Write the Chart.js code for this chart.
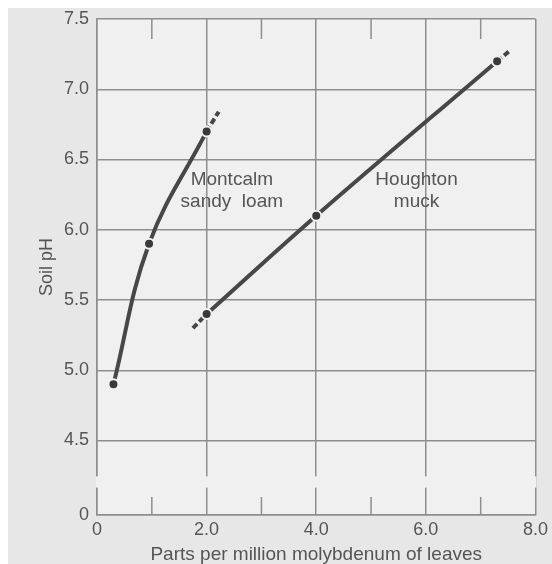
<!DOCTYPE html>
<html>
<head>
<meta charset="utf-8">
<script src="https://cdn.jsdelivr.net/npm/chart.js@4.4.0/dist/chart.umd.min.js"></script>
<style>
  html, body { margin: 0; padding: 0; background: #fff; }
</style>
</head>
<body>
<canvas id="soil-chart" width="552" height="564"></canvas>
<script>
// measured points: ppm molybdenum in leaves vs soil pH
const montcalm_x = [0.3, 0.95, 2.0];
const montcalm_y = [4.9, 5.9, 6.7];
const montcalm_ext_x = [2.0, 2.22];
const montcalm_ext_y = [6.7, 6.84];

const houghton_x = [2.0, 4.0, 7.3];
const houghton_y = [5.4, 6.1, 7.2];
const houghton_lo_x = [1.75, 2.0];
const houghton_lo_y = [5.3, 5.4];
const houghton_hi_x = [7.3, 7.55];
const houghton_hi_y = [7.2, 7.28];

const xTicks = [0, 2, 4, 6, 8];
const xMinorTicks = [1, 3, 5, 7];
const yTicks = [4.5, 5.0, 5.5, 6.0, 6.5, 7.0, 7.5];
const yZero = 3.97; // bottom of the broken axis, labelled "0"

const montcalm_label = ['Montcalm', 'sandy  loam'];
const houghton_label = ['Houghton', 'muck'];

const lineColor = '#474747';
const gridColor = '#8e8e8e';
const textColor = '#555';
const plotBg = '#f0f0f0';

let pts = (xs, ys) => xs.map((x, i) => ({x: x, y: ys[i]}));

const mainLine = {
    showLine: true,
    borderColor: lineColor,
    borderWidth: 4,
    tension: 0.4,
    pointRadius: 5,
    pointBackgroundColor: '#3a3a3a',
    pointBorderColor: plotBg,
    pointBorderWidth: 2,
};
const dashLine = {
    showLine: true,
    borderColor: lineColor,
    borderWidth: 4,
    borderDash: [6, 3],
    pointRadius: 0,
};

// paints the scanned-page background
const pageBg = {
    id: 'pageBg',
    beforeDraw(chart) {
        const {ctx, chartArea: a} = chart;
        ctx.save();
        ctx.fillStyle = '#fff';
        ctx.fillRect(0, 0, chart.width, chart.height);
        ctx.fillStyle = '#e7e7e7';
        ctx.fillRect(8, 8, chart.width - 8, chart.height - 8);
        ctx.fillStyle = plotBg;
        ctx.fillRect(a.left, a.top, a.right - a.left, a.bottom - a.top);
        ctx.restore();
    }
};

// axis break gap + short inner ticks on top and bottom
const axisBreak = {
    id: 'axisBreak',
    beforeDatasetsDraw(chart) {
        const {ctx, chartArea: a, scales: {x, y}} = chart;
        ctx.save();
        const g0 = y.getPixelForValue(4.245), g1 = y.getPixelForValue(4.165);
        ctx.fillStyle = plotBg;
        ctx.fillRect(a.left - 1, g0, a.right - a.left + 2, g1 - g0);
        ctx.strokeStyle = gridColor;
        ctx.lineWidth = 1.5;
        xMinorTicks.forEach(v => {
            const px = x.getPixelForValue(v);
            ctx.beginPath();
            ctx.moveTo(px, a.top);
            ctx.lineTo(px, a.top + 20);
            ctx.moveTo(px, a.bottom);
            ctx.lineTo(px, a.bottom - 18);
            ctx.stroke();
        });
        ctx.restore();
    }
};

// curve names written in the plot
const curveText = {
    id: 'curveText',
    afterDatasetsDraw(chart) {
        const {ctx, scales: {x, y}} = chart;
        ctx.save();
        ctx.font = '19px "Liberation Sans", Arial, sans-serif';
        ctx.fillStyle = textColor;
        ctx.textAlign = 'center';
        ctx.textBaseline = 'middle';
        [[montcalm_label, 2.46, 6.355], [houghton_label, 5.83, 6.355]].forEach(([lines, vx, vy]) => {
            const px = x.getPixelForValue(vx), py = y.getPixelForValue(vy);
            lines.forEach((t, i) => ctx.fillText(t, px, py + i * 22));
        });
        ctx.restore();
    }
};

const config = {
    type: 'scatter',
    data: {
        datasets: [
            {...mainLine, label: 'Montcalm sandy loam', data: pts(montcalm_x, montcalm_y)},
            {...mainLine, label: 'Houghton muck', data: pts(houghton_x, houghton_y)},
            {...dashLine, data: pts(montcalm_ext_x, montcalm_ext_y)},
            {...dashLine, data: pts(houghton_lo_x, houghton_lo_y)},
            {...dashLine, data: pts(houghton_hi_x, houghton_hi_y)},
        ]
    },
    options: {
        responsive: false,
        animation: false,
        layout: {padding: {top: 19, right: 16, left: 0, bottom: 0}},
        plugins: {
            legend: {display: false},
            tooltip: {enabled: false},
        },
        scales: {
            x: {
                type: 'linear',
                min: 0,
                max: 8,
                afterBuildTicks: s => { s.ticks = xTicks.map(v => ({value: v})) },
                afterFit: s => { s.height = 49 },
                grid: {color: gridColor, lineWidth: 1.5, drawTicks: false},
                border: {color: gridColor, width: 1.5},
                ticks: {
                    padding: 4,
                    color: textColor,
                    font: {family: '"Liberation Sans", Arial, sans-serif', size: 18},
                    callback: v => v === 0 ? '0' : v.toFixed(1),
                },
                title: {
                    display: true,
                    text: 'Parts per million molybdenum of leaves',
                    color: textColor,
                    font: {family: '"Liberation Sans", Arial, sans-serif', size: 19, lineHeight: 1},
                    padding: {top: 0, bottom: 0},
                },
            },
            y: {
                type: 'linear',
                min: yZero,
                max: 7.5,
                afterBuildTicks: s => { s.ticks = [yZero, ...yTicks].map(v => ({value: v})) },
                afterFit: s => { s.width = 97 },
                grid: {color: gridColor, lineWidth: 1.5, drawTicks: false},
                border: {color: gridColor, width: 1.5},
                ticks: {
                    padding: 8,
                    color: textColor,
                    font: {family: '"Liberation Sans", Arial, sans-serif', size: 18},
                    callback: v => v < yTicks[0] ? '0' : v.toFixed(1),
                },
                title: {
                    display: true,
                    text: 'Soil pH',
                    color: textColor,
                    font: {family: '"Liberation Sans", Arial, sans-serif', size: 18, lineHeight: 1},
                    padding: {top: 38, bottom: 0},
                },
            },
        },
    },
    plugins: [pageBg, axisBreak, curveText],
};

new Chart(document.getElementById('soil-chart'), config);
</script>
</body>
</html>
